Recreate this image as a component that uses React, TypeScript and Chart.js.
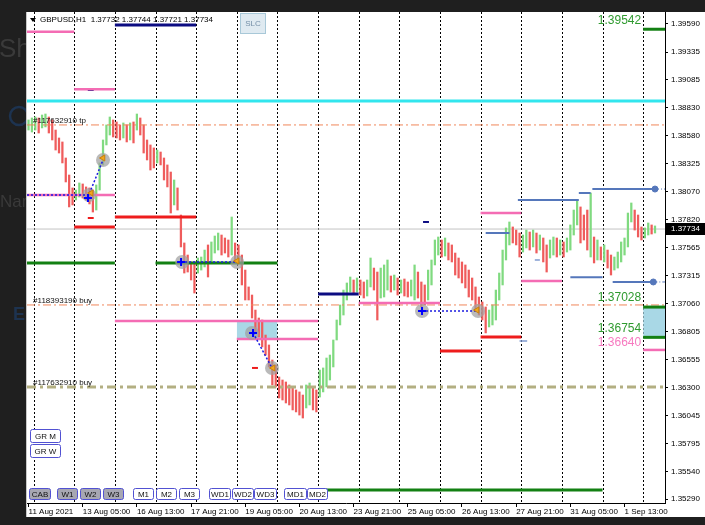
import React, { useEffect, useRef } from "react";
import { Chart, registerables } from "chart.js";

Chart.register(...registerables);

const FONT = '"Liberation Sans", Arial, sans-serif';

// ---------- axes ----------
const yTickValues = [1.3959, 1.39335, 1.39085, 1.3883, 1.3858, 1.38325, 1.3807, 1.3782, 1.37565, 1.37315, 1.3706, 1.36805, 1.36555, 1.363, 1.36045, 1.35795, 1.3554, 1.3529];
const xTickHours = [0, 32, 64, 96, 128, 160, 192, 224, 256, 288, 320, 352];
const xTickLabels = ["11 Aug 2021", "13 Aug 05:00", "16 Aug 13:00", "17 Aug 21:00", "19 Aug 05:00", "20 Aug 13:00", "23 Aug 21:00", "25 Aug 05:00", "26 Aug 13:00", "27 Aug 21:00", "31 Aug 05:00", "1 Sep 13:00"];
const daySeparatorHours = [3, 27, 51, 75, 99, 123, 147, 171, 195, 219, 243, 267, 291, 315, 339, 363];
const X_MIN = -0.9;
const X_MAX = 375.9;
const Y_MIN = 1.35255;
const Y_MAX = 1.39698;

// ---------- price bars [low, high], one per two hours ----------
const week1 = [
  [1.3863, 1.38721], [1.38612, 1.38739], [1.3863, 1.38748], [1.38603, 1.38739], [1.38649, 1.38766], [1.38658, 1.38775],
  [1.38603, 1.38748], [1.3854, 1.38721], [1.38449, 1.3863], [1.38422, 1.38558], [1.38332, 1.38522], [1.3816, 1.38377],
  [1.37934, 1.38223], [1.37952, 1.38106], [1.37997, 1.38087], [1.38024, 1.38151], [1.38015, 1.38142], [1.37997, 1.38115],
  [1.37961, 1.38106], [1.37888, 1.38087], [1.37906, 1.38133], [1.38087, 1.38332], [1.38314, 1.3854], [1.38495, 1.38676],
  [1.38585, 1.38748], [1.38567, 1.38721],
];
const week2 = [
  [1.38558, 1.38703], [1.3854, 1.38676], [1.38558, 1.38694], [1.38522, 1.38676], [1.3854, 1.38694], [1.38513, 1.38703],
  [1.3863, 1.38775], [1.38585, 1.38739], [1.38422, 1.38676], [1.38359, 1.3854], [1.38268, 1.38495], [1.38287, 1.38468],
  [1.38332, 1.38449], [1.38314, 1.38431], [1.38178, 1.38377], [1.38115, 1.38314], [1.37879, 1.3825], [1.37952, 1.38178],
  [1.37906, 1.38106], [1.37572, 1.37861], [1.37336, 1.37608], [1.37345, 1.37499], [1.37273, 1.37436], [1.37155, 1.37436],
  [1.37336, 1.37472], [1.37363, 1.37481], [1.37391, 1.37544], [1.373, 1.3759], [1.37436, 1.37617], [1.37517, 1.37671],
  [1.37544, 1.37698], [1.37499, 1.3768], [1.37517, 1.37653], [1.37481, 1.37635], [1.37499, 1.37843], [1.37454, 1.37608],
  [1.37436, 1.3759], [1.37228, 1.37499], [1.37092, 1.37363], [1.37092, 1.3721], [1.36929, 1.37137], [1.36803, 1.37001],
  [1.36757, 1.36929], [1.36667, 1.36911], [1.36594, 1.36775], [1.36486, 1.36685], [1.36323, 1.36549], [1.36305, 1.36504],
  [1.36205, 1.36395], [1.36187, 1.36368], [1.3616, 1.3635], [1.36142, 1.36323], [1.36097, 1.36305], [1.36079, 1.36278],
  [1.36051, 1.3626], [1.36024, 1.36232], [1.36115, 1.36323], [1.36142, 1.36341], [1.36097, 1.36296], [1.36079, 1.36278],
];
const week3 = [
  [1.36214, 1.36458], [1.3626, 1.36477], [1.36305, 1.36567], [1.36368, 1.36594], [1.36486, 1.3673], [1.3673, 1.36911],
  [1.36866, 1.37047], [1.36956, 1.37182], [1.37092, 1.37246], [1.37164, 1.373], [1.37155, 1.37273], [1.37164, 1.37291],
  [1.37137, 1.37273], [1.3711, 1.37255], [1.37128, 1.37273], [1.3721, 1.37472], [1.37182, 1.37381], [1.36911, 1.37345],
  [1.3711, 1.37381], [1.37119, 1.37409], [1.37182, 1.37454], [1.37164, 1.37309], [1.37182, 1.37318], [1.37137, 1.37291],
  [1.37155, 1.37273], [1.37128, 1.37282], [1.37119, 1.37255], [1.37128, 1.37273], [1.37092, 1.37409], [1.3711, 1.37345],
  [1.37029, 1.37255], [1.37047, 1.37228], [1.37092, 1.37363], [1.37228, 1.37454], [1.37409, 1.37635], [1.37499, 1.37662],
  [1.37481, 1.37635], [1.3749, 1.37653], [1.37454, 1.37608], [1.37436, 1.3759], [1.37318, 1.37517], [1.37291, 1.37472],
  [1.37246, 1.37436], [1.37201, 1.37409], [1.37119, 1.37363], [1.37092, 1.37291], [1.37001, 1.3721], [1.36956, 1.37119],
  [1.36911, 1.37074], [1.36794, 1.37029], [1.36848, 1.37001], [1.36866, 1.37047], [1.36911, 1.37182], [1.37092, 1.37336],
  [1.37228, 1.37544], [1.37454, 1.37744], [1.3759, 1.37798], [1.37608, 1.37753], [1.3759, 1.37725], [1.37481, 1.37698],
];
const week4 = [
  [1.37526, 1.3768], [1.37563, 1.37725], [1.37544, 1.37707], [1.37572, 1.37725], [1.37517, 1.37698], [1.37544, 1.3768],
  [1.37436, 1.37653], [1.37345, 1.3759], [1.37472, 1.37635], [1.37499, 1.37662], [1.37481, 1.37653], [1.37499, 1.37635],
  [1.37481, 1.37617], [1.37526, 1.37653], [1.37544, 1.37771], [1.3768, 1.37906], [1.37771, 1.37997], [1.37608, 1.37934],
  [1.37635, 1.37861], [1.37544, 1.37906], [1.37481, 1.3806], [1.37427, 1.37662], [1.37454, 1.37635], [1.37454, 1.37572],
  [1.37436, 1.3759], [1.37381, 1.37544], [1.37318, 1.37499], [1.37363, 1.37481], [1.37381, 1.37526], [1.37436, 1.37617],
  [1.37499, 1.37653], [1.37572, 1.37879], [1.37798, 1.3797], [1.37725, 1.37906], [1.37662, 1.37861], [1.37635, 1.37753],
  [1.37653, 1.37744], [1.3768, 1.37789], [1.37689, 1.37771], [1.37698, 1.37762],
];
const BAR_STEP_HOURS = 2;

const currentPrice = 1.37734;
const headerQuote = "GBPUSD,H1  1.37732 1.37744 1.37721 1.37734";

// ---------- levels [price, startHour, endHour] ----------
const cyanLevels = [[1.38893, X_MIN, X_MAX]];
const pinkLevels = [
  [1.3952, X_MIN, 27], [1.38999, 27, 51], [1.38042, X_MIN, 51], [1.36902, 51, 171], [1.36739, 123, 171],
  [1.37065, 195, 243], [1.37879, 267, 291], [1.37264, 291, 315], [1.3664, 363, X_MAX],
];
const navyLevels = [[1.39581, 51, 99], [1.37146, 171, 195]];
const redLevels = [[1.37753, 27, 51], [1.37843, 51, 99], [1.3663, 243, 267], [1.36757, 267, 291]];
const greenLevels = [
  [1.37427, X_MIN, 51], [1.37427, 75, 147], [1.35373, 171, 339], [1.39542, 363, X_MAX], [1.37028, 363, X_MAX], [1.36754, 363, X_MAX],
];
const blueLevels = [
  [1.37698, 270, 284], [1.37997, 289, 325], [1.3806, 325, 332], [1.38096, 333, 370], [1.37297, 320, 339], [1.37255, 345, 369],
];
const blueRayStarts = [[1.38096, 370], [1.37255, 369]];
const navyTicks = [[1.38992, 35, 38.5], [1.37798, 233, 236.5]];
const redTicks = [[1.37834, 35, 38.5], [1.36477, 132, 135.5]];
const blueTicks = [[1.36721, 290, 294.5], [1.37454, 299, 302]];
const boxZones = [[123, 147, 1.36739, 1.36893], [363, X_MAX, 1.36754, 1.37028]];

// ---------- order lines ----------
const tpLine = { price: 1.38676, label: "#117632910 tp" };
const buyLine1 = { price: 1.37047, label: "#118393190 buy" };
const buyLine2 = { price: 1.36305, label: "#117632910 buy" };

// ---------- trades ----------
const tradeLinks = [
  [[X_MIN, 1.38042], [35.1, 1.38042]],
  [[35.1, 1.38024], [44, 1.38359]],
  [[90.1, 1.37436], [123.2, 1.37436]],
  [[132.6, 1.36794], [143.8, 1.36477]],
  [[232.4, 1.36992], [265.5, 1.36992]],
];
const tradeCircles = [[35.7, 1.38042], [44, 1.38359], [90.7, 1.37436], [123.2, 1.37436], [132, 1.36794], [143.8, 1.36477], [232.4, 1.36992], [265.5, 1.36992]];
const tradeEntries = [[35.1, 1.38015], [90.1, 1.37436], [132.6, 1.36794], [232.4, 1.36992]];
const tradeExits = [[37, 1.3806], [44, 1.38377], [123.2, 1.37445], [144.4, 1.36477], [264.9, 1.37001]];

// right-side price labels [price, text, colour key]
const rightLabels = [
  [1.39542, "1.39542", "green"],
  [1.37028, "1.37028", "green"],
  [1.36754, "1.36754", "green"],
  [1.3664, "1.36640", "pink"],
];

const gridButtons = ["GR M", "GR W"];
const bottomButtons = ["CAB", "W1", "W2", "W3", "M1", "M2", "M3", "WD1", "WD2", "WD3", "MD1", "MD2"];

// ---------- styles ----------
const C = {
  up: "#80da80",
  down: "#ef5c5c",
  pink: "#f46cb4",
  navy: "#0c0c82",
  red: "#ee1c1c",
  green: "#138013",
  blue: "#5577bb",
  cyan: "#32e6ee",
  orange: "#f0865a",
  olive: "#b3af82",
  box: "#a9d8e6",
  textGreen: "#2f9a2f",
  textPink: "#f77ac0",
};

const candles = [...week1, ...week2, ...week3, ...week4];
const mids = candles.map(([l, h]) => (l + h) / 2);
const barColors = mids.map((m, i) => (i === 0 || m >= mids[i - 1] ? C.up : C.down));

const seg = (p: number, h0: number, h1: number) => [
  { x: h0, y: p },
  { x: h1, y: p },
];

function levelSets(levels: number[][], color: string, width: number, order: number, dash: number[] = []) {
  return levels.map(([p, h0, h1]) => ({
    type: "line",
    data: seg(p, h0, h1),
    borderColor: color,
    borderWidth: width,
    borderDash: dash,
    borderCapStyle: "butt",
    pointRadius: 0,
    fill: false,
    order,
  }));
}

function buildDatasets() {
  const ds: any[] = [];
  boxZones.forEach(([h0, h1, lo, hi]) =>
    ds.push({
      type: "line",
      data: seg(hi, h0, h1),
      borderWidth: 0,
      borderColor: "rgba(0,0,0,0)",
      pointRadius: 0,
      fill: { value: lo },
      backgroundColor: C.box,
      order: 100,
    })
  );
  ds.push({
    type: "line",
    data: seg(currentPrice, X_MIN, X_MAX),
    borderColor: "#c4c4c4",
    borderWidth: 1,
    pointRadius: 0,
    order: 90,
  });
  ds.push({
    type: "bar",
    data: candles.map((c, i) => ({ x: i * BAR_STEP_HOURS, y: c })),
    backgroundColor: barColors,
    borderWidth: 0,
    barThickness: 1.6,
    order: 60,
  });
  ds.push(...levelSets([[tpLine.price, X_MIN, X_MAX], [buyLine1.price, X_MIN, X_MAX]], C.orange, 1, 45, [8, 3, 2, 3]));
  ds.push(...levelSets([[buyLine2.price, X_MIN, X_MAX]], C.olive, 3, 45, [9, 4, 3, 4]));
  ds.push(...levelSets(cyanLevels, C.cyan, 3, 40));
  ds.push(...levelSets(pinkLevels, C.pink, 2.5, 40));
  ds.push(...levelSets(navyLevels, C.navy, 3, 40));
  ds.push(...levelSets(redLevels, C.red, 3, 40));
  ds.push(...levelSets(greenLevels, C.green, 3, 40));
  ds.push(...levelSets(blueLevels, C.blue, 2, 40));
  ds.push(...levelSets(blueRayStarts.map(([p, h]) => [p, h, X_MAX]), C.blue, 1, 40, [4, 2, 1, 2]));
  ds.push(...levelSets(navyTicks, C.navy, 2, 40));
  ds.push(...levelSets(redTicks, C.red, 2, 40));
  ds.push(...levelSets(blueTicks, "#7f9ad0", 1.5, 40));
  ds.push({
    type: "line",
    showLine: false,
    data: blueRayStarts.map(([p, h]) => ({ x: h, y: p })),
    pointRadius: 3,
    pointBackgroundColor: C.blue,
    pointBorderColor: C.blue,
    order: 35,
  });
  ds.push({
    type: "line",
    showLine: false,
    data: tradeCircles.map(([h, p]) => ({ x: h, y: p })),
    pointRadius: 7,
    pointBackgroundColor: "rgba(160,160,160,0.72)",
    pointBorderColor: "rgba(0,0,0,0)",
    pointBorderWidth: 0,
    order: 30,
  });
  tradeLinks.forEach(([a, b]) =>
    ds.push({
      type: "line",
      data: [
        { x: a[0], y: a[1] },
        { x: b[0], y: b[1] },
      ],
      borderColor: "#1a1ae0",
      borderWidth: 1.5,
      borderDash: [2, 2],
      pointRadius: 0,
      order: 20,
    })
  );
  ds.push({
    type: "line",
    showLine: false,
    data: tradeEntries.map(([h, p]) => ({ x: h, y: p })),
    pointStyle: "cross",
    pointRadius: 4,
    pointBorderColor: "#0000ff",
    pointBorderWidth: 2,
    order: 10,
  });
  ds.push({
    type: "line",
    showLine: false,
    data: tradeExits.map(([h, p]) => ({ x: h, y: p })),
    pointStyle: "triangle",
    pointRotation: -90,
    pointRadius: 3.5,
    pointBackgroundColor: "#f2a51e",
    pointBorderColor: "#c8800a",
    pointBorderWidth: 1,
    order: 10,
  });
  return ds;
}

const backgroundPlugin = {
  id: "mtBackground",
  beforeDraw(chart: any) {
    const ctx = chart.ctx;
    ctx.save();
    ctx.fillStyle = "#1f1f1f";
    ctx.fillRect(0, 0, chart.width, chart.height);
    // faint page content behind the chart window
    ctx.fillStyle = "#3a3a3a";
    ctx.font = `26px ${FONT}`;
    ctx.textBaseline = "alphabetic";
    ctx.fillText("Sh", -1, 57);
    ctx.font = `17px ${FONT}`;
    ctx.fillText("Nam", 0, 207);
    ctx.strokeStyle = "#1d3350";
    ctx.lineWidth = 2.5;
    ctx.beginPath();
    ctx.arc(19, 116, 9, 0, Math.PI * 2);
    ctx.stroke();
    ctx.fillStyle = "#1d3350";
    ctx.font = `bold 18px ${FONT}`;
    ctx.fillText("E", 13, 320);
    // chart window
    ctx.fillStyle = "#ffffff";
    ctx.fillRect(27, 12, chart.width - 27, 505);
    ctx.strokeStyle = "#c8c8c8";
    ctx.lineWidth = 1;
    ctx.beginPath();
    ctx.moveTo(26.5, 12);
    ctx.lineTo(26.5, 517);
    ctx.stroke();
    ctx.restore();
  },
  beforeDatasetsDraw(chart: any) {
    const { ctx, chartArea, scales } = chart;
    ctx.save();
    ctx.strokeStyle = "#000";
    ctx.lineWidth = 1;
    ctx.setLineDash([2, 2]);
    daySeparatorHours.forEach((h) => {
      const x = Math.round(scales.x.getPixelForValue(h)) + 0.5;
      ctx.beginPath();
      ctx.moveTo(x, chartArea.top);
      ctx.lineTo(x, chartArea.bottom);
      ctx.stroke();
    });
    ctx.restore();
  },
};

function roundRect(ctx: any, x: number, y: number, w: number, h: number, r: number) {
  ctx.beginPath();
  ctx.moveTo(x + r, y);
  ctx.lineTo(x + w - r, y);
  ctx.quadraticCurveTo(x + w, y, x + w, y + r);
  ctx.lineTo(x + w, y + h - r);
  ctx.quadraticCurveTo(x + w, y + h, x + w - r, y + h);
  ctx.lineTo(x + r, y + h);
  ctx.quadraticCurveTo(x, y + h, x, y + h - r);
  ctx.lineTo(x, y + r);
  ctx.quadraticCurveTo(x, y, x + r, y);
  ctx.closePath();
}

const overlayPlugin = {
  id: "mtOverlay",
  afterDraw(chart: any) {
    const { ctx, scales, chartArea } = chart;
    const xs = scales.x;
    const ys = scales.y;
    ctx.save();
    // order labels
    ctx.fillStyle = "#111";
    ctx.font = `8px ${FONT}`;
    ctx.textAlign = "left";
    ctx.textBaseline = "bottom";
    const lx = xs.getPixelForValue(2.7);
    [tpLine, buyLine1, buyLine2].forEach((l) => ctx.fillText(l.label, lx, ys.getPixelForValue(l.price)));

    // right price labels
    ctx.font = `12px ${FONT}`;
    ctx.textAlign = "right";
    ctx.textBaseline = "middle";
    const rx = xs.getPixelForValue(363) - 2;
    rightLabels.forEach(([p, t, c]: any) => {
      ctx.fillStyle = c === "pink" ? C.textPink : C.textGreen;
      const off = c === "pink" ? 7 : 9;
      ctx.fillText(t, rx, ys.getPixelForValue(p) - off);
    });

    // current price box
    const cy = Math.round(ys.getPixelForValue(currentPrice));
    ctx.fillStyle = "#000";
    ctx.fillRect(chartArea.right + 1, cy - 6, chart.width - chartArea.right - 1, 12);
    ctx.fillStyle = "#fff";
    ctx.font = `8px ${FONT}`;
    ctx.textAlign = "left";
    ctx.fillText(currentPrice.toFixed(5), chartArea.right + 6, cy);

    // header
    ctx.fillStyle = "#000";
    ctx.beginPath();
    ctx.moveTo(30, 18);
    ctx.lineTo(36, 18);
    ctx.lineTo(33, 22);
    ctx.closePath();
    ctx.fill();
    ctx.font = `8px ${FONT}`;
    ctx.textBaseline = "middle";
    ctx.fillText(headerQuote, 40, 20);

    // SLC button
    ctx.fillStyle = "#dfeaf1";
    ctx.fillRect(240.5, 13.5, 25, 20);
    ctx.strokeStyle = "#a8c8d8";
    ctx.lineWidth = 1;
    ctx.strokeRect(240.5, 13.5, 25, 20);
    ctx.fillStyle = "#7590a8";
    ctx.textAlign = "center";
    ctx.fillText("SLC", 253, 24);

    // panel buttons
    const drawBtn = (label: string, x0: number, x1: number, y0: number, y1: number, filled: boolean) => {
      roundRect(ctx, x0 + 0.5, y0 + 0.5, x1 - x0, y1 - y0, 2);
      ctx.fillStyle = filled ? "#a7a7b2" : "#ffffff";
      ctx.fill();
      ctx.strokeStyle = "#5151d2";
      ctx.lineWidth = 1;
      ctx.stroke();
      ctx.fillStyle = "#111";
      ctx.textAlign = "center";
      ctx.textBaseline = "middle";
      ctx.font = `8px ${FONT}`;
      ctx.fillText(label, (x0 + x1) / 2 + 0.5, (y0 + y1) / 2 + 1);
    };
    const gridRows = [
      [429, 442],
      [444, 457],
    ];
    gridButtons.forEach((b, i) => drawBtn(b, 30, 60, gridRows[i][0], gridRows[i][1], false));
    const bx = [
      [29, 50], [57, 77], [80, 100], [103, 123], [133, 153], [156, 176], [179, 199],
      [209, 230], [232, 253], [254, 276], [284, 306], [307, 327],
    ];
    bottomButtons.forEach((b, i) => drawBtn(b, bx[i][0], bx[i][1], 488, 499, i < 4));
    ctx.restore();
  },
};

export default function App() {
  const ref = useRef<HTMLCanvasElement | null>(null);
  useEffect(() => {
    if (!ref.current) return;
    const chart = new Chart(ref.current, {
      type: "bar",
      data: { datasets: buildDatasets() },
      options: {
        responsive: false,
        animation: false,
        devicePixelRatio: 1,
        events: [],
        layout: { padding: { left: 27, top: 12, right: 0, bottom: 8 } },
        plugins: { legend: { display: false }, tooltip: { enabled: false } },
        scales: {
          x: {
            type: "linear",
            position: "bottom",
            min: X_MIN,
            max: X_MAX,
            offset: false,
            afterBuildTicks: (s: any) => {
              s.ticks = xTickHours.map((v) => ({ value: v }));
            },
            afterFit: (s: any) => {
              s.height = 14;
            },
            ticks: {
              autoSkip: false,
              maxRotation: 0,
              minRotation: 0,
              align: "start",
              padding: 0,
              color: "#000",
              font: { family: FONT, size: 8 },
              callback: (_v: any, i: number) => xTickLabels[i],
            },
            grid: { drawOnChartArea: false, drawTicks: true, tickLength: 4, color: "#000", offset: false },
            border: { display: true, color: "#000", width: 1 },
          },
          y: {
            type: "linear",
            position: "right",
            min: Y_MIN,
            max: Y_MAX,
            afterBuildTicks: (s: any) => {
              s.ticks = yTickValues.map((v) => ({ value: v }));
            },
            afterFit: (s: any) => {
              s.width = 40;
            },
            ticks: {
              autoSkip: false,
              padding: 3,
              color: "#000",
              font: { family: FONT, size: 8 },
              callback: (v: any) => Number(v).toFixed(5),
            },
            grid: { drawOnChartArea: false, drawTicks: true, tickLength: 3, color: "#000" },
            border: { display: true, color: "#000", width: 1 },
          },
        },
      } as any,
      plugins: [backgroundPlugin, overlayPlugin],
    } as any);
    return () => chart.destroy();
  }, []);
  return (
    <div style={{ position: "fixed", left: 0, top: 0, width: 705, height: 525, background: "#1f1f1f" }}>
      <canvas ref={ref} width={705} height={525} style={{ display: "block", width: 705, height: 525 }} />
    </div>
  );
}
